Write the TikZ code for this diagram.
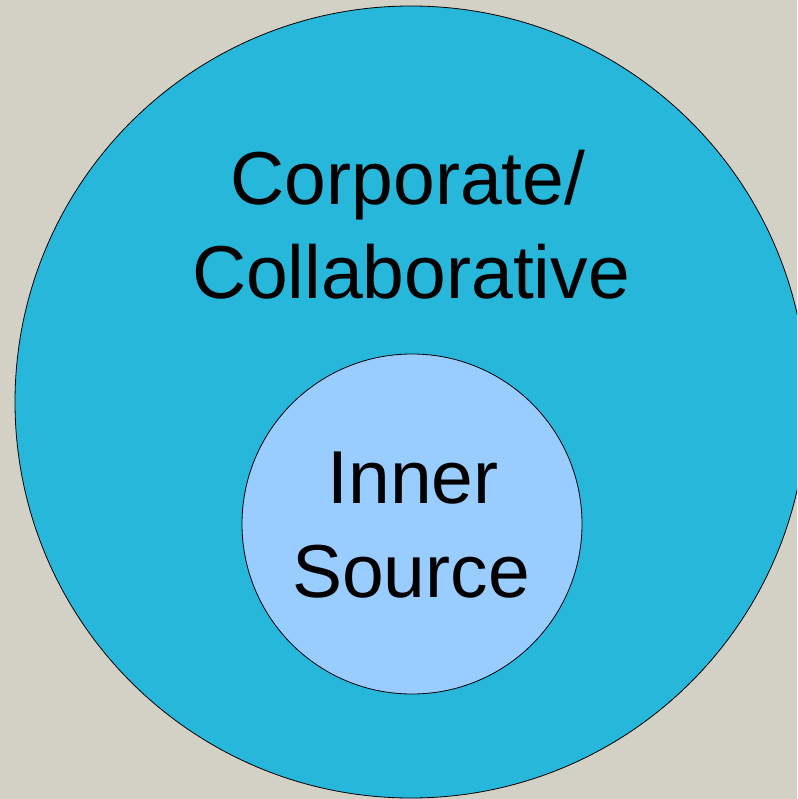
\documentclass[tikz,border=0pt]{standalone}
\usepackage{fontspec}
\setmainfont{Liberation Sans}
\definecolor{bg}{RGB}{211,208,197}
\definecolor{outerblue}{RGB}{38,183,219}
\definecolor{innerblue}{RGB}{153,204,255}
\begin{document}
\begin{tikzpicture}[x=1pt,y=-1pt,
  ring/.style={circle,draw=black,line width=0.8pt,inner sep=0pt},
  label/.style={anchor=base,font=\fontsize{75}{93}\selectfont,inner sep=0pt}]
\fill[bg] (0,0) rectangle (797,799);
\useasboundingbox (0,0) rectangle (797,799);
\begin{scope}
\clip (0,0) rectangle (797,799);
\node[ring,fill=outerblue,minimum size=792pt] (outer) at (411,402) {};
\end{scope}
\node[ring,fill=innerblue,minimum size=340pt] (inner) at (412,524) {};
\node[label] (c1) at (408,205) {Corporate/};
\node[label] (c2) at (411,298) {Collaborative};
\node[label] (i1) at (413,503) {Inner};
\node[label] (i2) at (411,597) {Source};
\end{tikzpicture}
\end{document}
